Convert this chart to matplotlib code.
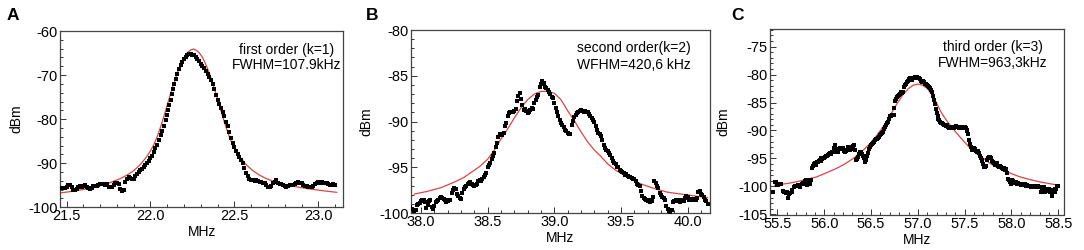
import matplotlib
matplotlib.use("Agg")
import matplotlib.pyplot as plt
from matplotlib.ticker import MultipleLocator, FormatStrFormatter

plt.rcParams['font.family'] = ['Liberation Sans', 'DejaVu Sans']

# ---------------- Panel A data ----------------
a_x = [21.47, 21.48, 21.49, 21.50, 21.51, 21.52, 21.53, 21.54, 21.55, 21.56, 21.57, 21.58, 21.59, 21.60,
       21.61, 21.62, 21.63, 21.64, 21.65, 21.66, 21.67, 21.68, 21.69, 21.70, 21.71, 21.72, 21.73, 21.74,
       21.75, 21.76, 21.77, 21.78, 21.79, 21.80, 21.81, 21.82, 21.83, 21.84, 21.85, 21.86, 21.87, 21.88,
       21.89, 21.90, 21.91, 21.92, 21.93, 21.94, 21.95, 21.96, 21.97, 21.98, 21.99, 22.00, 22.01, 22.02,
       22.03, 22.04, 22.05, 22.06, 22.07, 22.08, 22.09, 22.10, 22.105, 22.11, 22.12, 22.13, 22.135, 22.14,
       22.15, 22.16, 22.17, 22.18, 22.19, 22.20, 22.21, 22.22, 22.23, 22.24, 22.25, 22.26, 22.27, 22.28,
       22.29, 22.30, 22.31, 22.32, 22.33, 22.34, 22.35, 22.36, 22.37, 22.38, 22.39, 22.40, 22.41, 22.42,
       22.43, 22.44, 22.45, 22.46, 22.47, 22.48, 22.49, 22.50, 22.51, 22.52, 22.53, 22.54, 22.55, 22.56,
       22.57, 22.58, 22.59, 22.60, 22.61, 22.62, 22.63, 22.64, 22.65, 22.66, 22.67, 22.68, 22.69, 22.70,
       22.71, 22.72, 22.73, 22.74, 22.75, 22.76, 22.77, 22.78, 22.79, 22.80, 22.81, 22.82, 22.83, 22.84,
       22.85, 22.86, 22.87, 22.88, 22.89, 22.90, 22.91, 22.92, 22.93, 22.94, 22.95, 22.96, 22.97, 22.98,
       22.99, 23.00, 23.01, 23.02, 23.03, 23.04, 23.05, 23.06, 23.07, 23.08, 23.09, 23.10]
a_y = [-95.7, -95.6, -95.7, -95.5, -95.0, -94.9, -95.4, -96.0, -96.1, -95.9, -95.3, -95.2, -95.4, -95.1,
       -94.9, -95.3, -95.7, -95.8, -95.6, -95.2, -95.1, -95.2, -94.9, -94.8, -94.8, -94.7, -94.9, -94.8,
       -95.3, -95.5, -95.4, -94.9, -94.5, -94.4, -94.7, -95.9, -96.2, -96.0, -94.3, -93.6, -93.2, -93.4,
       -93.6, -93.5, -93.0, -92.4, -92.0, -91.5, -91.2, -90.8, -90.4, -90.0, -89.6, -88.9, -88.3, -87.4,
       -86.6, -85.8, -84.7, -83.6, -82.6, -81.5, -80.3, -79.0, -77.9, -76.8, -75.6, -74.3, -73.2, -72.0,
       -71.0, -69.8, -68.7, -67.8, -67.0, -66.4, -65.8, -65.5, -65.3, -65.3, -65.4, -65.5, -65.9, -66.4,
       -66.9, -67.5, -68.0, -68.5, -69.0, -69.7, -70.5, -71.2, -72.0, -73.1, -74.6, -75.6, -76.6, -77.4,
       -78.3, -79.2, -80.6, -81.6, -83.0, -84.2, -85.4, -86.4, -87.2, -87.9, -88.6, -89.3, -90.0, -91.0,
       -92.2, -93.0, -93.6, -93.8, -93.9, -94.0, -93.9, -94.1, -94.3, -94.2, -94.4, -94.5, -94.9, -95.3,
       -95.4, -95.2, -94.6, -94.2, -93.9, -94.5, -94.8, -94.8, -94.9, -95.2, -95.3, -95.2, -95.0, -94.9,
       -94.9, -94.8, -94.5, -94.3, -94.4, -94.6, -95.0, -95.1, -95.2, -95.3, -95.3, -95.4, -95.2, -94.8,
       -94.4, -94.3, -94.5, -94.3, -94.4, -94.6, -94.6, -94.8, -94.9, -94.9, -94.8, -94.9]
a_fit_x = [21.47, 21.55, 21.62, 21.70, 21.76, 21.82, 21.86, 21.90, 21.94, 21.98, 22.00, 22.02, 22.04,
           22.06, 22.08, 22.10, 22.12, 22.14, 22.16, 22.18, 22.20, 22.22, 22.24, 22.256, 22.27, 22.29,
           22.31, 22.33, 22.35, 22.37, 22.39, 22.41, 22.43, 22.45, 22.47, 22.49, 22.51, 22.53, 22.57,
           22.61, 22.65, 22.69, 22.75, 22.81, 22.89, 22.96, 23.04, 23.11]
a_fit_y = [-96.7, -96.3, -95.8, -95.1, -94.4, -93.5, -92.7, -91.7, -90.3, -88.4, -87.2, -85.8, -84.0,
           -81.8, -79.4, -76.8, -74.2, -71.8, -69.5, -67.6, -66.0, -64.9, -64.3, -64.1, -64.3, -64.9,
           -66.0, -67.6, -69.5, -71.8, -74.2, -76.8, -79.4, -81.8, -84.0, -85.8, -87.2, -88.4, -90.3,
           -91.7, -92.7, -93.5, -94.3, -94.9, -95.5, -95.9, -96.3, -96.6]

# ---------------- Panel B data ----------------
b_x = [37.92, 37.93, 37.95, 37.96, 37.97, 37.98, 37.99, 38.00, 38.01, 38.02, 38.03, 38.04, 38.05, 38.06,
       38.07, 38.08, 38.09, 38.10, 38.11, 38.12, 38.13, 38.14, 38.15, 38.16, 38.17, 38.18, 38.19, 38.20,
       38.21, 38.22, 38.23, 38.24, 38.25, 38.26, 38.27, 38.28, 38.29, 38.30, 38.31, 38.32, 38.33, 38.34,
       38.35, 38.36, 38.37, 38.38, 38.39, 38.40, 38.41, 38.42, 38.43, 38.44, 38.45, 38.46, 38.47, 38.48,
       38.49, 38.50, 38.51, 38.52, 38.53, 38.54, 38.55, 38.56, 38.57, 38.58, 38.59, 38.60, 38.61, 38.62,
       38.63, 38.64, 38.65, 38.66, 38.67, 38.68, 38.69, 38.70, 38.71, 38.72, 38.73, 38.74, 38.75, 38.76,
       38.77, 38.78, 38.79, 38.80, 38.81, 38.82, 38.83, 38.84, 38.85, 38.86, 38.87, 38.88, 38.89, 38.90,
       38.91, 38.92, 38.93, 38.94, 38.95, 38.96, 38.97, 38.98, 38.99, 39.00, 39.01, 39.02, 39.03, 39.04,
       39.05, 39.06, 39.07, 39.08, 39.09, 39.10, 39.11, 39.12, 39.13, 39.14, 39.15, 39.16, 39.17, 39.18,
       39.19, 39.20, 39.21, 39.22, 39.23, 39.24, 39.25, 39.26, 39.27, 39.28, 39.29, 39.30, 39.31, 39.32,
       39.33, 39.34, 39.35, 39.36, 39.37, 39.38, 39.39, 39.40, 39.41, 39.42, 39.43, 39.44, 39.45, 39.46,
       39.47, 39.48, 39.49, 39.50, 39.51, 39.52, 39.53, 39.54, 39.55, 39.56, 39.57, 39.58, 39.59, 39.60,
       39.61, 39.62, 39.63, 39.64, 39.65, 39.66, 39.67, 39.68, 39.69, 39.70, 39.71, 39.72, 39.73, 39.74,
       39.75, 39.76, 39.77, 39.78, 39.79, 39.80, 39.81, 39.82, 39.83, 39.84, 39.85, 39.86, 39.87, 39.88,
       39.89, 39.90, 39.91, 39.92, 39.93, 39.94, 39.95, 39.96, 39.97, 39.98, 39.99, 40.00, 40.01, 40.02,
       40.03, 40.04, 40.05, 40.06, 40.07, 40.08, 40.09, 40.10, 40.11, 40.12, 40.13, 40.14, 40.15]
b_y = [-99.3, -99.5, -99.7, -99.6, -99.1, -99.0, -98.9, -98.7, -98.6, -98.5, -98.8, -99.4, -99.1, -98.7,
       -98.6, -99.3, -99.5, -99.2, -98.8, -98.7, -98.6, -98.3, -98.2, -98.3, -98.4, -98.6, -98.8, -98.7,
       -98.6, -98.5, -97.8, -97.5, -97.2, -97.4, -97.9, -98.1, -98.3, -98.4, -97.8, -97.3, -97.1, -97.0,
       -96.8, -96.7, -96.6, -96.8, -96.9, -97.0, -96.9, -96.8, -96.5, -96.4, -96.5, -96.3, -96.0, -95.8,
       -95.6, -95.0, -94.7, -94.5, -94.1, -93.8, -93.4, -92.8, -92.3, -91.7, -91.4, -91.3, -91.5, -91.2,
       -90.5, -90.1, -89.4, -89.1, -89.0, -88.9, -89.0, -88.8, -88.6, -87.8, -87.2, -86.9, -87.5, -88.2,
       -88.7, -88.6, -88.8, -89.1, -88.9, -88.7, -88.5, -88.6, -88.0, -87.6, -87.3, -87.1, -86.2, -85.9,
       -85.6, -85.8, -86.2, -86.3, -86.5, -86.8, -87.0, -87.3, -87.4, -88.0, -88.5, -88.9, -89.4, -89.8,
       -90.2, -90.4, -90.6, -90.9, -91.0, -91.2, -91.3, -91.4, -90.4, -89.9, -89.5, -89.3, -89.1, -88.9,
       -88.8, -88.7, -88.8, -88.9, -88.8, -88.9, -89.0, -89.2, -89.4, -89.6, -89.8, -90.0, -90.5, -90.9,
       -91.2, -91.4, -91.6, -92.0, -92.6, -92.9, -93.1, -93.2, -93.4, -93.6, -94.0, -94.3, -94.5, -94.6,
       -94.9, -95.0, -95.3, -95.4, -95.5, -95.6, -95.8, -95.7, -95.9, -96.0, -96.0, -96.2, -96.3, -96.3,
       -96.5, -96.8, -96.9, -97.0, -97.6, -98.1, -98.3, -98.4, -98.5, -98.7, -98.6, -98.8, -98.7, -98.2,
       -96.5, -96.7, -97.0, -97.2, -97.8, -98.0, -98.2, -98.3, -98.6, -99.2, -99.5, -99.8, -99.9, -99.6,
       -98.8, -98.7, -98.6, -98.7, -98.5, -98.8, -98.6, -98.5, -98.7, -98.3, -98.1, -98.2, -98.5, -98.4,
       -98.5, -98.6, -98.4, -98.5, -98.3, -97.7, -97.6, -97.9, -98.0, -98.2, -98.5, -98.7, -99.0]
b_fit_x = [37.95, 38.05, 38.15, 38.25, 38.32, 38.38, 38.44, 38.50, 38.55, 38.60, 38.65, 38.70, 38.75,
           38.80, 38.85, 38.90, 38.95, 39.00, 39.05, 39.10, 39.15, 39.20, 39.25, 39.30, 39.35, 39.40,
           39.46, 39.52, 39.58, 39.65, 39.75, 39.85, 39.95, 40.05, 40.15]
b_fit_y = [-97.9, -97.6, -97.2, -96.6, -96.1, -95.5, -94.9, -94.1, -93.1, -91.9, -90.8, -89.6, -88.5,
           -87.6, -87.0, -86.7, -86.7, -86.9, -87.6, -88.8, -89.9, -91.1, -92.2, -93.1, -93.8, -94.6,
           -95.3, -95.8, -96.3, -96.8, -97.3, -97.7, -97.9, -98.1, -98.3]

# ---------------- Panel C data ----------------
c_x = [55.45, 55.47, 55.48, 55.49, 55.50, 55.51, 55.53, 55.54, 55.56, 55.57, 55.58, 55.59, 55.60, 55.61,
       55.62, 55.63, 55.65, 55.66, 55.68, 55.69, 55.70, 55.72, 55.73, 55.74, 55.76, 55.77, 55.78, 55.79,
       55.80, 55.81, 55.82, 55.83, 55.84, 55.85, 55.86, 55.87, 55.88, 55.89, 55.90, 55.91, 55.92, 55.93,
       55.94, 55.95, 55.96, 55.97, 55.98, 55.99, 56.00, 56.01, 56.02, 56.03, 56.04, 56.05, 56.06, 56.07,
       56.08, 56.09, 56.10, 56.11, 56.12, 56.13, 56.14, 56.15, 56.16, 56.17, 56.18, 56.19, 56.20, 56.21,
       56.22, 56.23, 56.24, 56.25, 56.26, 56.27, 56.28, 56.29, 56.30, 56.31, 56.32, 56.33, 56.34, 56.35,
       56.36, 56.37, 56.38, 56.39, 56.40, 56.41, 56.42, 56.43, 56.44, 56.45, 56.46, 56.47, 56.48, 56.49,
       56.50, 56.51, 56.52, 56.53, 56.54, 56.55, 56.56, 56.57, 56.58, 56.59, 56.60, 56.61, 56.62, 56.63,
       56.64, 56.65, 56.66, 56.67, 56.68, 56.69, 56.70, 56.71, 56.72, 56.73, 56.74, 56.75, 56.76, 56.77,
       56.78, 56.79, 56.80, 56.81, 56.82, 56.83, 56.84, 56.85, 56.86, 56.87, 56.88, 56.89, 56.90, 56.91,
       56.92, 56.93, 56.94, 56.95, 56.96, 56.97, 56.98, 56.99, 57.00, 57.01, 57.02, 57.03, 57.04, 57.05,
       57.06, 57.07, 57.08, 57.09, 57.10, 57.11, 57.12, 57.13, 57.14, 57.15, 57.16, 57.17, 57.18, 57.19,
       57.20, 57.21, 57.22, 57.23, 57.24, 57.25, 57.26, 57.27, 57.28, 57.29, 57.30, 57.31, 57.32, 57.33,
       57.34, 57.35, 57.36, 57.37, 57.38, 57.39, 57.40, 57.41, 57.42, 57.43, 57.44, 57.45, 57.46, 57.47,
       57.48, 57.49, 57.50, 57.51, 57.52, 57.53, 57.54, 57.55, 57.56, 57.57, 57.58, 57.59, 57.60, 57.61,
       57.62, 57.63, 57.64, 57.65, 57.66, 57.67, 57.68, 57.69, 57.70, 57.71, 57.72, 57.73, 57.74, 57.75,
       57.76, 57.77, 57.78, 57.79, 57.80, 57.81, 57.82, 57.83, 57.84, 57.85, 57.86, 57.87, 57.88, 57.89,
       57.90, 57.91, 57.92, 57.93, 57.94, 57.95, 57.96, 57.97, 57.98, 57.99, 58.00, 58.01, 58.02, 58.03,
       58.04, 58.05, 58.06, 58.07, 58.08, 58.09, 58.10, 58.11, 58.12, 58.13, 58.14, 58.15, 58.16, 58.17,
       58.18, 58.19, 58.20, 58.21, 58.22, 58.23, 58.24, 58.25, 58.26, 58.27, 58.28, 58.29, 58.30, 58.31,
       58.32, 58.33, 58.34, 58.35, 58.36, 58.37, 58.38, 58.39, 58.40, 58.41, 58.42, 58.43, 58.44, 58.45,
       58.46, 58.47, 58.48, 58.49, 58.50]
c_y = [-101.0, -99.3, -99.2, -99.5, -99.7, -99.8, -99.5, -99.6, -100.9, -101.1, -101.0, -101.2, -101.0, -102.1,
       -101.3, -101.2, -101.0, -100.6, -100.1, -99.9, -100.0, -99.8, -99.9, -100.1, -99.5, -99.4, -99.6, -99.0,
       -98.8, -99.2, -99.8, -99.3, -98.9, -99.6, -98.9, -96.8, -96.4, -96.0, -95.9, -96.1, -95.7, -95.6,
       -95.4, -95.3, -95.5, -95.0, -95.1, -94.9, -95.0, -94.8, -94.6, -94.5, -94.4, -94.2, -94.1, -94.3,
       -93.9, -93.8, -93.2, -92.6, -93.3, -93.8, -93.7, -93.9, -93.4, -93.2, -93.1, -93.3, -93.2, -93.6,
       -93.8, -93.7, -93.5, -92.9, -93.0, -93.3, -93.5, -93.4, -93.0, -92.7, -92.6, -93.5, -95.2, -95.1,
       -94.7, -94.2, -93.8, -93.9, -94.2, -94.6, -95.0, -95.4, -95.6, -95.3, -94.6, -94.1, -93.4, -92.9,
       -92.6, -92.4, -92.2, -92.0, -91.7, -91.6, -91.5, -91.4, -91.2, -90.9, -90.8, -90.6, -90.4, -90.2,
       -89.8, -89.3, -89.0, -88.6, -88.4, -87.9, -87.5, -87.4, -87.2, -87.3, -87.2, -86.0, -84.8, -84.4,
       -84.0, -83.9, -83.6, -83.4, -83.2, -83.3, -83.1, -82.3, -81.8, -81.6, -81.3, -81.2, -80.9, -80.8,
       -80.7, -80.8, -80.9, -80.7, -80.6, -80.5, -80.6, -80.5, -80.6, -80.7, -80.8, -81.2, -81.3, -81.2,
       -81.4, -81.3, -81.6, -81.7, -81.9, -82.0, -82.2, -82.4, -82.8, -83.1, -83.8, -84.5, -85.3, -86.1,
       -86.9, -87.5, -88.0, -88.2, -88.4, -88.6, -88.7, -88.8, -89.0, -89.1, -89.2, -89.0, -89.3, -89.5,
       -89.6, -89.4, -89.5, -89.3, -89.4, -89.6, -89.3, -89.2, -89.4, -89.3, -89.5, -89.4, -89.3, -89.5,
       -89.6, -89.4, -89.3, -89.6, -89.9, -90.1, -90.6, -91.7, -92.4, -93.0, -93.5, -93.3, -93.2, -93.4,
       -93.6, -93.8, -93.7, -94.1, -94.5, -94.9, -95.3, -95.5, -96.0, -96.5, -96.6, -96.3, -95.3, -95.0,
       -94.8, -94.7, -95.0, -95.4, -95.6, -95.8, -96.2, -96.0, -95.9, -96.1, -96.3, -96.5, -96.4, -96.6,
       -96.8, -96.9, -96.8, -97.0, -96.9, -97.6, -98.6, -98.9, -99.2, -99.5, -99.3, -98.9, -99.0, -99.2,
       -99.4, -99.3, -99.5, -99.4, -99.6, -99.5, -99.7, -99.6, -99.8, -99.7, -99.6, -99.8, -99.9, -99.8,
       -99.9, -100.0, -99.9, -100.1, -100.0, -99.9, -100.0, -100.1, -100.0, -99.9, -100.0, -100.1, -100.2, -101.0,
       -101.0, -100.4, -101.0, -100.1, -101.0, -100.5, -100.4, -100.9, -100.5, -101.0, -100.6, -101.8, -100.6, -101.0,
       -100.4, -101.0, -100.5, -99.9, -100.0]
c_fit_x = [55.47, 55.60, 55.70, 55.80, 55.92, 56.02, 56.13, 56.22, 56.31, 56.40, 56.49, 56.56, 56.63,
           56.70, 56.77, 56.84, 56.90, 56.95, 57.00, 57.05, 57.10, 57.15, 57.20, 57.25, 57.31, 57.37,
           57.43, 57.50, 57.56, 57.63, 57.70, 57.78, 57.87, 57.98, 58.09, 58.20, 58.30, 58.40, 58.50]
c_fit_y = [-99.8, -99.5, -99.2, -98.8, -98.3, -97.6, -96.8, -96.0, -95.0, -93.8, -92.3, -90.9, -89.3,
           -87.4, -85.4, -83.6, -82.5, -81.9, -81.7, -81.9, -82.5, -83.6, -85.1, -86.8, -88.3, -89.6,
           -90.8, -92.1, -93.2, -94.2, -95.0, -96.0, -96.8, -97.6, -98.3, -98.8, -99.2, -99.5, -99.8]

panel_letters = ["A", "B", "C"]
notes = [("first order (k=1)", "FWHM=107.9kHz"),
         ("second order(k=2)", "WFHM=420,6 kHz"),
         ("third order (k=3)", "FWHM=963,3kHz")]
x_ticks = [[21.5, 22.0, 22.5, 23.0],
           [38.0, 38.5, 39.0, 39.5, 40.0],
           [55.5, 56.0, 56.5, 57.0, 57.5, 58.0, 58.5]]
y_ticks = [[-100, -90, -80, -70, -60],
           [-100, -95, -90, -85, -80],
           [-105, -100, -95, -90, -85, -80, -75]]

W, H = 1084, 250
fig = plt.figure(figsize=(W / 100, H / 100), dpi=100)

rects = [(60, 31, 343.3, 207.3), (411, 30, 710, 213.3), (770, 29.3, 1064, 214.5)]
xlims = [(21.461, 23.149), (37.925, 40.168), (55.42, 58.561)]
ylims = [(-100, -60), (-100, -80), (-105.04, -71.9)]
minor_y = [2, 1, 1]
note_pos = [(0.80, 0.892, 0.805), (0.746, 0.902, 0.809), (0.758, 0.904, 0.818)]
letter_px = [(7, 16), (366, 16), (731, 16)]
ylabel_px = [16, 366, 723]

datasets = [(a_x, a_y, a_fit_x, a_fit_y), (b_x, b_y, b_fit_x, b_fit_y), (c_x, c_y, c_fit_x, c_fit_y)]

FS = 10
for i in range(3):
    l, t, r, b = rects[i]
    ax = fig.add_axes([l / W, 1 - b / H, (r - l) / W, (b - t) / H])
    dx, dy, fx, fy = datasets[i]
    ax.plot(fx, fy, color='#dc4446', lw=0.9, zorder=2)
    ax.plot(dx, dy, ls='none', marker='s', ms=2.3, mfc='black', mec='black', mew=0, zorder=3)
    ax.set_xlim(*xlims[i])
    ax.set_ylim(*ylims[i])
    ax.set_xticks(x_ticks[i])
    ax.set_yticks(y_ticks[i])
    ax.xaxis.set_major_formatter(FormatStrFormatter('%.1f'))
    ax.yaxis.set_major_formatter(FormatStrFormatter('%d'))
    ax.xaxis.set_minor_locator(MultipleLocator(0.1))
    ax.yaxis.set_minor_locator(MultipleLocator(minor_y[i]))
    ax.tick_params(which='both', direction='in', top=False, right=False, colors='#333333',
                   labelcolor='black', labelsize=FS + 0.5, width=0.7)
    ax.tick_params(which='major', length=4, pad=1.5)
    ax.tick_params(which='minor', length=2)
    for s in ax.spines.values():
        s.set_color('#444444')
        s.set_linewidth(0.9)
    ax.set_xlabel('MHz', fontsize=FS, labelpad=1.5)
    nx, ny1, ny2 = note_pos[i]
    ax.text(nx, ny1, notes[i][0], transform=ax.transAxes, ha='center', va='center', fontsize=FS)
    ax.text(nx, ny2, notes[i][1], transform=ax.transAxes, ha='center', va='center', fontsize=FS)
    fig.text(ylabel_px[i] / W, 1 - ((t + b) / 2) / H, 'dBm', rotation=90, ha='center', va='center',
             fontsize=FS)
    lx, ly = letter_px[i]
    fig.text(lx / W, 1 - ly / H, panel_letters[i], fontsize=12.5, fontweight='bold',
             ha='left', va='center')

fig.savefig('out.png', dpi=100)
